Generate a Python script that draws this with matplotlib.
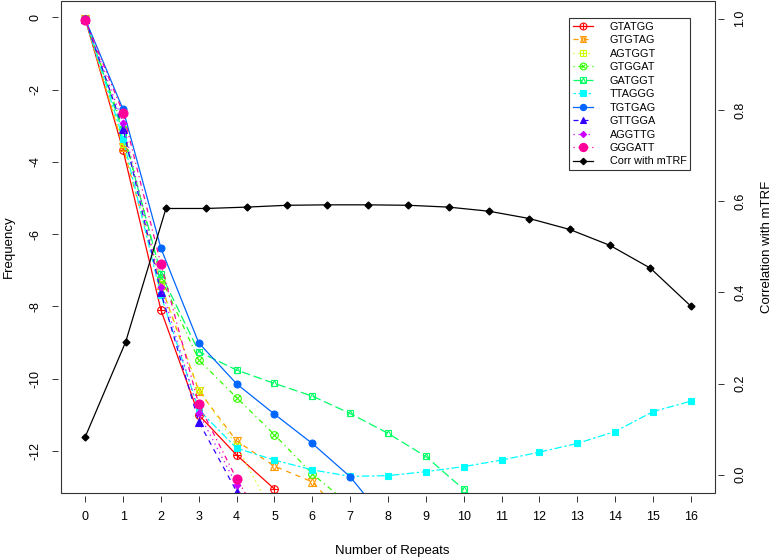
import matplotlib
matplotlib.use("Agg")
import matplotlib.pyplot as plt
from matplotlib.lines import Line2D
from matplotlib.patches import Rectangle

plt.rcParams['font.family'] = ['Liberation Sans', 'DejaVu Sans']
plt.rcParams['axes.unicode_minus'] = False

# log frequency per motif, index = number of repeats (series stop where value is -Inf)
repeats = list(range(17))
motifs = ["GTATGG", "GTGTAG", "AGTGGT", "GTGGAT", "GATGGT",
          "TTAGGG", "TGTGAG", "GTTGGA", "AGGTTG", "GGGATT"]
GTATGG = [-0.05, -3.68, -8.10, -11.00, -12.11, -13.05]
GTGTAG = [-0.05, -3.59, -7.42, -10.33, -11.72, -12.42, -12.85, -14.0]
AGTGGT = [-0.05, -3.50, -7.38, -10.30, -11.85, -13.8]
GTGGAT = [-0.05, -3.10, -7.20, -9.48, -10.52, -11.55, -12.63, -13.5]
GATGGT = [-0.05, -3.20, -7.10, -9.25, -9.76, -10.13, -10.48, -10.96, -11.51, -12.15, -13.06]
TTAGGG = [-0.05, -3.36, -7.69, -10.86, -11.92, -12.25, -12.52, -12.70, -12.68,
          -12.57, -12.43, -12.25, -12.03, -11.79, -11.46, -10.91, -10.62]
TGTGAG = [-0.05, -2.55, -6.39, -9.01, -10.14, -10.98, -11.79, -12.71, -14.0]
GTTGGA = [-0.05, -3.08, -7.61, -11.19, -13.12]
AGGTTG = [-0.05, -2.92, -7.45, -10.95, -12.94, -15.5]
GGGATT = [-0.09, -2.64, -6.83, -10.71, -12.77, -14.5]
series = [GTATGG, GTGTAG, AGTGGT, GTGGAT, GATGGT, TTAGGG, TGTGAG, GTTGGA, AGGTTG, GGGATT]

# correlation with mTRF, 16 values drawn over the same width
corr_x = list(range(16))
corr = [0.083, 0.291, 0.584, 0.584, 0.587, 0.591, 0.592, 0.592, 0.591, 0.587,
        0.578, 0.562, 0.538, 0.503, 0.453, 0.370]

colors = ["#FF0000", "#FF9900", "#CCFF00", "#33FF00", "#00FF66",
          "#00FFFF", "#0066FF", "#3300FF", "#CC00FF", "#FF0099"]
ltys = ["-", (0, (4, 4)), (0, (1, 3)), (0, (1, 3, 4, 3)), (0, (7, 3)), (0, (2, 2, 6, 2))]
# (marker, size, filled) and an optional overlay marker
marks = [
    (("o", 5.5, False), ("+", 5.5, False)),
    (("^", 5.5, False), ("v", 5.5, False)),
    (("s", 5.0, False), ("+", 5.0, False)),
    (("o", 5.5, False), ("x", 3.8, False)),
    (("s", 5.0, False), ("^", 3.8, False)),
    (("s", 5.0, True), None),
    (("o", 5.0, True), None),
    (("^", 5.5, True), None),
    (("D", 3.5, True), None),
    (("o", 6.5, True), None),
]

fig = plt.figure(figsize=(7.76, 5.58), dpi=100)
rect = [61 / 776, 1 - 493 / 558, (715 - 61) / 776, 493 / 558 - 0.001]
ax = fig.add_axes(rect)
ax.set_xlim(-0.64, 16.64)
ax.set_ylim(-13.16, 0.46)

handles = []
for i, (name, vals) in enumerate(zip(motifs, series)):
    c = colors[i]
    ls = ltys[i % 6]
    (m1, s1, f1), extra = marks[i]
    xs = repeats[:len(vals)]
    ax.plot(xs, vals, color=c, ls=ls, lw=0.9, marker=m1, ms=s1,
            mfc=c if f1 else "none", mec=c, mew=0.8)
    h = Line2D([], [], color=c, ls=ls, lw=0.9, marker=m1, ms=s1 * 0.9,
               mfc=c if f1 else "none", mec=c, mew=0.8)
    if extra is not None:
        m2, s2, f2 = extra
        ax.plot(xs, vals, ls="none", marker=m2, ms=s2, mfc="none", mec=c, mew=0.8)
        h2 = Line2D([], [], ls="none", marker=m2, ms=s2 * 0.9, mfc="none", mec=c, mew=0.8)
        handles.append((h, h2))
    else:
        handles.append(h)

ax.set_xticks(repeats)
ax.set_yticks([0, -2, -4, -6, -8, -10, -12])
for side in ["top", "right"]:
    ax.spines[side].set_visible(False)
for side in ["left", "bottom"]:
    ax.spines[side].set_position(("outward", 2))
    ax.spines[side].set_color("none")
ax.tick_params(axis="both", length=4, width=0.7, color="#333333", labelsize=9)
ax.tick_params(axis="x", pad=7)
ax.tick_params(axis="y", pad=8)
for t in ax.get_yticklabels():
    t.set_rotation(90)
    t.set_va("center")
ax.add_patch(Rectangle((0, 0), 1, 1, transform=ax.transAxes, fill=False,
                       lw=0.8, ec="#333333", clip_on=False, zorder=5))

ax2 = fig.add_axes(rect, frameon=False)
ax2.set_xlim(-0.6, 15.6)
ax2.set_ylim(-0.04, 1.04)
ax2.plot(corr_x, corr, color="black", lw=0.9, marker="D", ms=3.5)
ax2.set_xticks([])
ax2.yaxis.tick_right()
ax2.set_yticks([0.0, 0.2, 0.4, 0.6, 0.8, 1.0])
ax2.set_yticklabels(["0.0", "0.2", "0.4", "0.6", "0.8", "1.0"])
ax2.spines["right"].set_position(("outward", 2))
ax2.tick_params(axis="y", length=4, width=0.7, color="#333333", labelsize=9, pad=8)
for t in ax2.get_yticklabels():
    t.set_rotation(90)
    t.set_va("center")

handles.append(Line2D([], [], color="black", lw=0.9, marker="D", ms=3.2))
labels = motifs + ["Corr with mTRF"]
leg = ax2.legend(handles, labels, loc="upper left",
                 bbox_to_anchor=(569 / 776, 1 - 18 / 558), bbox_transform=fig.transFigure,
                 fontsize=7.8, frameon=True, fancybox=False, borderaxespad=0,
                 handlelength=1.9, handletextpad=1.5, labelspacing=0.32,
                 borderpad=0.35)
leg.get_frame().set_edgecolor("black")
leg.get_frame().set_linewidth(0.8)

fig.text(392 / 776, 1 - 551 / 558, "Number of Repeats", ha="center", va="center", fontsize=9.5)
fig.text(9 / 776, 1 - 247 / 558, "Frequency", ha="center", va="center", rotation=90, fontsize=9.5)
fig.text(767 / 776, 1 - 247 / 558, "Correlation with mTRF", ha="center", va="center",
         rotation=90, fontsize=9.5)

fig.savefig("out.png", dpi=100)
